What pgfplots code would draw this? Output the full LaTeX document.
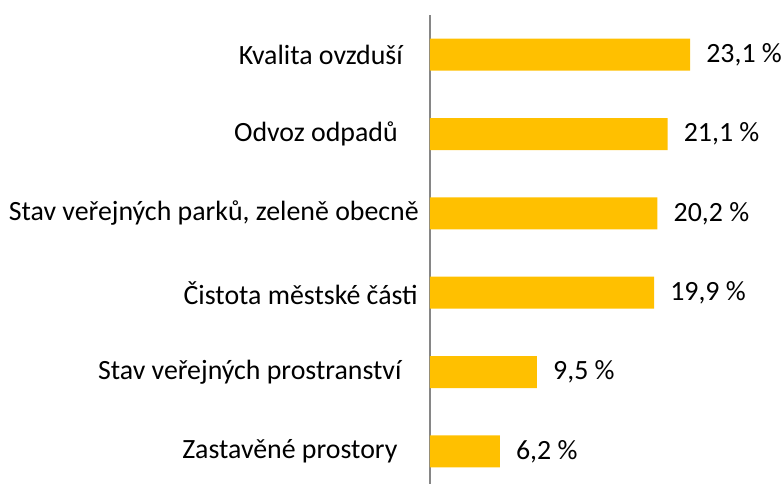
\documentclass[border=0pt]{standalone}
\usepackage{fontspec}
\setmainfont{Carlito}
\usepackage{pgfplots}
\pgfplotsset{compat=1.18}
\definecolor{gold}{HTML}{FFC000}
\definecolor{axgray}{HTML}{868686}
\begin{document}
\begin{tikzpicture}
\begin{axis}[
 scale only axis, width=264pt, height=351.75pt,
 xbar, bar width=24pt,
 xmin=0, xmax=31.27, ymin=-0.41, ymax=5.5,
 axis x line=none, axis y line=left,
 y axis line style={-, axgray, line width=1.3pt},
 ytick={0,1,2,3,4,5},
 yticklabels={Zastavěné prostory\kern16pt,Stav veřejných prostranství\kern13pt,Čistota městské části\kern0.75pt,{Stav veřejných parků, zeleně obecně},Odvoz odpadů\kern15.75pt,Kvalita ovzduší\kern12pt},
 major tick length=0pt,
 yticklabel style={font=\fontsize{20.9}{25}\selectfont, anchor=east, inner sep=0pt, xshift=-8.25pt},
 point meta=x,
 nodes near coords={\pgfmathprintnumber{\pgfplotspointmeta}~\%},
 nodes near coords style={anchor=west, inner sep=0pt, xshift=12pt, font=\fontsize{20.9}{25}\selectfont, black},
 /pgf/number format/.cd, use comma, fixed, fixed zerofill, precision=1, assume math mode=true,
 /pgfplots/.cd,
 clip=false,
]
\addplot[fill=gold, draw=none] coordinates {(6.2,0) (9.5,1) (19.9,2) (20.2,3) (21.1,4) (23.1,5)};
\path (rel axis cs:-1.2216,0) rectangle (rel axis cs:1,1.032);
\end{axis}
\end{tikzpicture}
\end{document}
